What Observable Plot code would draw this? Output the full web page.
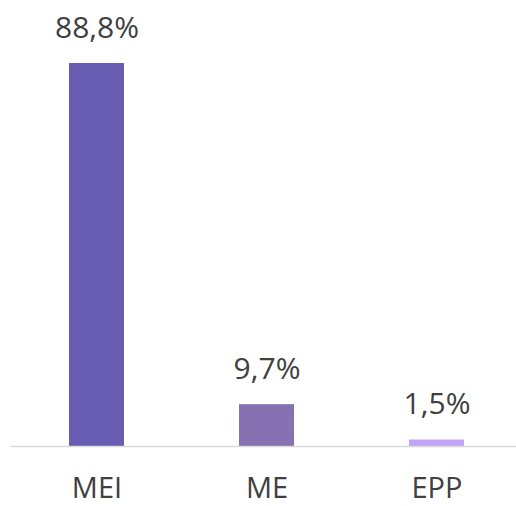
<!DOCTYPE html>
<html>
<head>
<meta charset="utf-8">
<script src="https://cdn.jsdelivr.net/npm/d3@7"></script>
<script src="https://cdn.jsdelivr.net/npm/@observablehq/plot@0.6"></script>
<style>
  html, body { margin: 0; padding: 0; background: #fff; }
  #chart svg { display: block; }
</style>
</head>
<body>
<div id="chart"></div>
<script>
const categories = ["MEI", "ME", "EPP"];
const values = [88.8, 9.7, 1.5];
const valueLabels = ["88,8%", "9,7%", "1,5%"];
const colors = ["#695CB3", "#8672B2", "#C2A4F6"];

const data = categories.map((c, i) => ({ cat: c, value: values[i], label: valueLabels[i], color: colors[i] }));

const chart = Plot.plot({
  width: 516,
  height: 506,
  marginTop: 63,
  marginBottom: 60,
  marginLeft: 10,
  marginRight: 0,
  style: { fontFamily: "'Open Sans', sans-serif", color: "#404040", background: "#fff" },
  x: { domain: categories, range: [10.25, 521.75], paddingInner: 0.677, paddingOuter: 0.3385, label: null },
  y: { domain: [0, 88.8], axis: null },
  marks: [
    Plot.barY(data, { x: "cat", y: "value", fill: "color" }),
    Plot.ruleY([0], { stroke: "#d9d9d9", strokeWidth: 1.5 }),
    Plot.text(data, { x: "cat", y: "value", text: "label", lineAnchor: "bottom", dy: -26, fontSize: 30, fill: "#404040" }),
    Plot.axisX({ tickSize: 0, tickPadding: 31, fontSize: 29, fill: "#404040", label: null })
  ]
});
document.getElementById("chart").appendChild(chart);
</script>
</body>
</html>
